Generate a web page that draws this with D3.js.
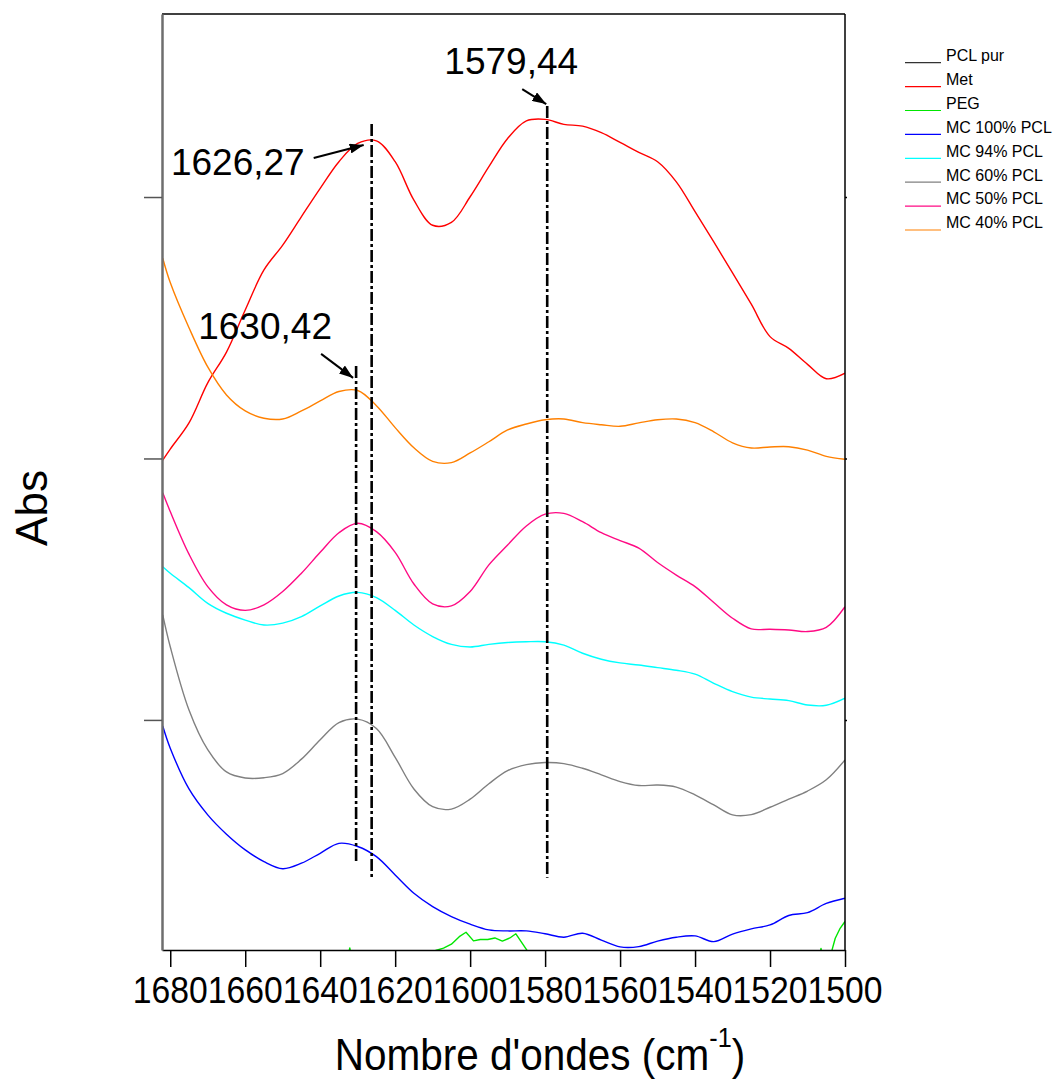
<!DOCTYPE html>
<html>
<head>
<meta charset="utf-8">
<script src="https://cdn.jsdelivr.net/npm/d3@7"></script>
<style>
  body { margin: 0; background: #fff; }
  svg { display: block; font-family: "Liberation Sans", Arial, sans-serif; }
</style>
</head>
<body>
<svg id="chart" width="1055" height="1082"></svg>
<script>
// FTIR spectra, 1682-1500 cm-1 window (stacked traces, arbitrary Abs offsets)
const wavenumbers = [1682, 1680, 1675, 1670, 1665, 1660, 1655, 1650, 1645, 1640, 1635, 1630, 1625,
  1620, 1615, 1610, 1605, 1600, 1595, 1590, 1585, 1580, 1575, 1570, 1565, 1560, 1555, 1550,
  1545, 1540, 1535, 1530, 1525, 1520, 1515, 1510, 1505, 1500];

const absMet = [0.1994, 0.2036, 0.2136, 0.2289, 0.2407, 0.2568, 0.2721, 0.2816, 0.2925, 0.3033,
  0.3135, 0.3205, 0.3215, 0.3135, 0.2988, 0.2892, 0.2903, 0.3001, 0.3116, 0.3224, 0.3291, 0.3297,
  0.3278, 0.3271, 0.3246, 0.3209, 0.3171, 0.3135, 0.3058, 0.2944, 0.2828, 0.2710, 0.2590, 0.2466,
  0.2421, 0.2360, 0.2305, 0.2326];

const absMC40 = [0.2766, 0.2673, 0.2500, 0.2350, 0.2243, 0.2182, 0.2154, 0.2151, 0.2182, 0.2220,
  0.2256, 0.2260, 0.2202, 0.2118, 0.2041, 0.1989, 0.1984, 0.2021, 0.2064, 0.2109, 0.2132, 0.2148,
  0.2151, 0.2137, 0.2129, 0.2123, 0.2136, 0.2148, 0.2151, 0.2137, 0.2102, 0.2060, 0.2040, 0.2044,
  0.2045, 0.2032, 0.2008, 0.1997];

const absMC50 = [0.1869, 0.1797, 0.1634, 0.1510, 0.1440, 0.1419, 0.1440, 0.1491, 0.1561, 0.1641,
  0.1716, 0.1752, 0.1720, 0.1641, 0.1520, 0.1444, 0.1436, 0.1491, 0.1593, 0.1669, 0.1742, 0.1787,
  0.1790, 0.1758, 0.1716, 0.1686, 0.1657, 0.1602, 0.1554, 0.1510, 0.1449, 0.1389, 0.1348, 0.1347,
  0.1344, 0.1338, 0.1354, 0.1433];

const absMC94 = [0.1586, 0.1561, 0.1506, 0.1446, 0.1408, 0.1382, 0.1363, 0.1370, 0.1395, 0.1436,
  0.1474, 0.1488, 0.1468, 0.1419, 0.1363, 0.1319, 0.1289, 0.1279, 0.1289, 0.1296, 0.1299, 0.1299,
  0.1286, 0.1255, 0.1232, 0.1218, 0.1210, 0.1200, 0.1190, 0.1175, 0.1140, 0.1108, 0.1087, 0.1080,
  0.1074, 0.1057, 0.1056, 0.1083];

const absMC60 = [0.1402, 0.1280, 0.1038, 0.0886, 0.0801, 0.0778, 0.0779, 0.0795, 0.0850, 0.0924,
  0.0990, 0.1003, 0.0967, 0.0857, 0.0736, 0.0668, 0.0659, 0.0697, 0.0756, 0.0806, 0.0829, 0.0837,
  0.0833, 0.0815, 0.0790, 0.0764, 0.0749, 0.0751, 0.0743, 0.0713, 0.0675, 0.0637, 0.0638, 0.0666,
  0.0697, 0.0728, 0.0771, 0.0847];

const absMC100 = [0.0977, 0.0892, 0.0736, 0.0637, 0.0563, 0.0503, 0.0458, 0.0431, 0.0452, 0.0490,
  0.0528, 0.0516, 0.0477, 0.0407, 0.0337, 0.0286, 0.0248, 0.0219, 0.0197, 0.0193, 0.0193, 0.0182,
  0.0169, 0.0184, 0.0158, 0.0132, 0.0133, 0.0154, 0.0169, 0.0174, 0.0152, 0.0181, 0.0201, 0.0216,
  0.0252, 0.0263, 0.0298, 0.0318];

// PCL pur: no readings inside this absorbance window
const absPCLpur = [];

// PEG is sampled on its own (denser) grid; most of it lies under the window floor
const pegWavenumbers = [1682, 1634, 1632.1, 1630.5, 1611, 1609.2, 1607.1, 1605.0, 1602.9, 1601.1,
  1599.1, 1597.3, 1595.3, 1593.4, 1591.4, 1589.4, 1587.8, 1584.8, 1583.5, 1508, 1506.4, 1505,
  1504, 1503.5, 1502.6, 1501.3, 1500];
const absPEG = [0.0, 0.0, 0.0128, 0.0, 0.0, 0.0118, 0.0127, 0.0142, 0.0171, 0.0188,
  0.0155, 0.0160, 0.0160, 0.0166, 0.0154, 0.0166, 0.0182, 0.0118, 0.0, 0.0, 0.0126, 0.0,
  0.0, 0.0118, 0.0165, 0.0203, 0.0229];

const seriesNames = ["PCL pur", "Met", "PEG", "MC 100% PCL", "MC 94% PCL", "MC 60% PCL", "MC 50% PCL", "MC 40% PCL"];
const seriesColors = ["#333333", "#ff0000", "#00e600", "#0000ff", "#00ffff", "#808080", "#ff0a84", "#ff8000"];

const xTicks = [1680, 1660, 1640, 1620, 1600, 1580, 1560, 1540, 1520, 1500];
const yTicks = [0.1, 0.2, 0.3];

// Band positions marked with dash-dot guides
const peakWavenumbers = [1626.27, 1579.44, 1630.42];
const peakLabels = ["1626,27", "1579,44", "1630,42"];
const peakTop = [0.3279, 0.3348, 0.2354];
const peakBottom = [0.0392, 0.0396, 0.0457];

// ---------------------------------------------------------------
const svg = d3.select("#chart");
const plot = { left: 162, right: 845, top: 14, bottom: 950 };

const x = d3.scaleLinear().domain([1682.2, 1500]).range([plot.left, plot.right]);
const y = d3.scaleLinear().domain([0.012, 0.370]).range([plot.bottom, plot.top]);

svg.append("defs").append("clipPath").attr("id", "plot-clip")
  .append("rect")
  .attr("x", plot.left).attr("y", plot.top)
  .attr("width", plot.right - plot.left).attr("height", plot.bottom - plot.top);

// traces
const spectra = [
  { name: "PCL pur", values: absPCLpur, grid: wavenumbers },
  { name: "Met", values: absMet, grid: wavenumbers },
  { name: "PEG", values: absPEG, grid: pegWavenumbers, linear: true },
  { name: "MC 100% PCL", values: absMC100, grid: wavenumbers },
  { name: "MC 94% PCL", values: absMC94, grid: wavenumbers },
  { name: "MC 60% PCL", values: absMC60, grid: wavenumbers },
  { name: "MC 50% PCL", values: absMC50, grid: wavenumbers },
  { name: "MC 40% PCL", values: absMC40, grid: wavenumbers }
];
const colorOf = d3.scaleOrdinal().domain(seriesNames).range(seriesColors);

const traces = svg.append("g").attr("clip-path", "url(#plot-clip)");
spectra.forEach(s => {
  const pts = s.values.map((v, i) => [s.grid[i], v]);
  const line = d3.line()
    .x(d => x(d[0])).y(d => y(d[1]))
    .curve(s.linear ? d3.curveLinear : d3.curveCatmullRom.alpha(0.5));
  traces.append("path")
    .datum(pts)
    .attr("fill", "none")
    .attr("stroke", colorOf(s.name))
    .attr("stroke-width", 1.4)
    .attr("stroke-linejoin", "round")
    .attr("d", pts.length ? line : null);
});

// frame
svg.append("line").attr("x1", plot.left).attr("x2", plot.right)
  .attr("y1", plot.top).attr("y2", plot.top)
  .attr("stroke", "#000").attr("stroke-width", 1.5);
svg.append("line").attr("x1", plot.right).attr("x2", plot.right)
  .attr("y1", plot.top).attr("y2", plot.bottom)
  .attr("stroke", "#000").attr("stroke-width", 1.5);

// bottom axis
const xAxis = d3.axisBottom(x).tickValues(xTicks).tickSize(17).tickSizeOuter(0).tickFormat("");
const gx = svg.append("g").attr("transform", `translate(0,${plot.bottom})`).call(xAxis);
gx.select(".domain").attr("stroke", "#000").attr("stroke-width", 1.5);
gx.selectAll(".tick line").attr("stroke", "#000").attr("stroke-width", 1.5);

svg.append("g").selectAll("text")
  .data(xTicks).join("text")
  .attr("x", d => x(d)).attr("y", 1003)
  .attr("text-anchor", "middle")
  .attr("font-size", 36)
  .attr("textLength", 75).attr("lengthAdjust", "spacingAndGlyphs")
  .attr("fill", "#000")
  .text(d => d);

// left axis (unlabelled ticks)
const yAxis = d3.axisLeft(y).tickValues(yTicks).tickSize(18).tickSizeOuter(0).tickFormat("");
const gy = svg.append("g").attr("transform", `translate(${plot.left},0)`).call(yAxis);
gy.select(".domain").attr("stroke", "#6e6e6e").attr("stroke-width", 2.5);
gy.selectAll(".tick line").attr("stroke", "#555").attr("stroke-width", 1.5);

// right axis stubs
const yAxisR = d3.axisRight(y).tickValues(yTicks).tickSize(2).tickSizeOuter(0).tickFormat("");
const gyr = svg.append("g").attr("transform", `translate(${plot.right},0)`).call(yAxisR);
gyr.select(".domain").remove();
gyr.selectAll(".tick line").attr("stroke", "#000").attr("stroke-width", 1.5);

// axis titles
const xTitle = svg.append("g").attr("transform", "translate(540,1070) scale(0.9,1)")
  .append("text").attr("text-anchor", "middle").attr("font-size", 45).attr("fill", "#000");
xTitle.append("tspan").text("Nombre d'ondes (cm");
xTitle.append("tspan").attr("dy", -23).attr("font-size", 28).text("-1");
xTitle.append("tspan").attr("dy", 23).text(")");

svg.append("text")
  .attr("transform", "translate(47,508) rotate(-90)")
  .attr("text-anchor", "middle")
  .attr("font-size", 44)
  .attr("fill", "#000")
  .text("Abs");

// peak guides and callouts
svg.select("defs").append("marker")
  .attr("id", "arrowhead")
  .attr("viewBox", "0 0 14 10")
  .attr("refX", 14).attr("refY", 5)
  .attr("markerWidth", 14).attr("markerHeight", 10)
  .attr("markerUnits", "userSpaceOnUse")
  .attr("orient", "auto")
  .append("path").attr("d", "M0,0 L14,5 L0,10 Z").attr("fill", "#000");

const calloutLayout = [
  { anchor: "end", tx: -67, ty: 51, ax1: -58, ay1: 34, ax2: -8, ay2: 21 },
  { anchor: "middle", tx: -36, ty: -32, ax1: -25, ay1: -17, ax2: -1, ay2: -2 },
  { anchor: "middle", tx: -91, ty: -27, ax1: -35, ay1: -12, ax2: -3, ay2: 12 }
];

const guides = svg.append("g");
peakWavenumbers.forEach((wn, i) => {
  const lx = x(wn), lt = y(peakTop[i]), lb = y(peakBottom[i]);
  const L = calloutLayout[i];
  guides.append("line")
    .attr("x1", lx).attr("x2", lx).attr("y1", lt).attr("y2", lb)
    .attr("stroke", "#000").attr("stroke-width", 2.6)
    .attr("stroke-dasharray", "12,3,3,3");
  guides.append("line")
    .attr("x1", lx + L.ax1).attr("y1", lt + L.ay1)
    .attr("x2", lx + L.ax2).attr("y2", lt + L.ay2)
    .attr("stroke", "#000").attr("stroke-width", 2)
    .attr("marker-end", "url(#arrowhead)");
  guides.append("text")
    .attr("x", lx + L.tx).attr("y", lt + L.ty)
    .attr("text-anchor", L.anchor)
    .attr("font-size", 37)
    .attr("fill", "#000")
    .text(peakLabels[i]);
});

// legend
const legend = svg.append("g");
seriesNames.forEach((name, i) => {
  const ly = 62.7 + i * 23.9;
  legend.append("line")
    .attr("x1", 905).attr("x2", 941).attr("y1", ly).attr("y2", ly)
    .attr("stroke", colorOf(name)).attr("stroke-width", 1.2);
  legend.append("text")
    .attr("x", 946).attr("y", ly - 1.7)
    .attr("font-size", 16).attr("fill", "#000")
    .text(name);
});
</script>
</body>
</html>
